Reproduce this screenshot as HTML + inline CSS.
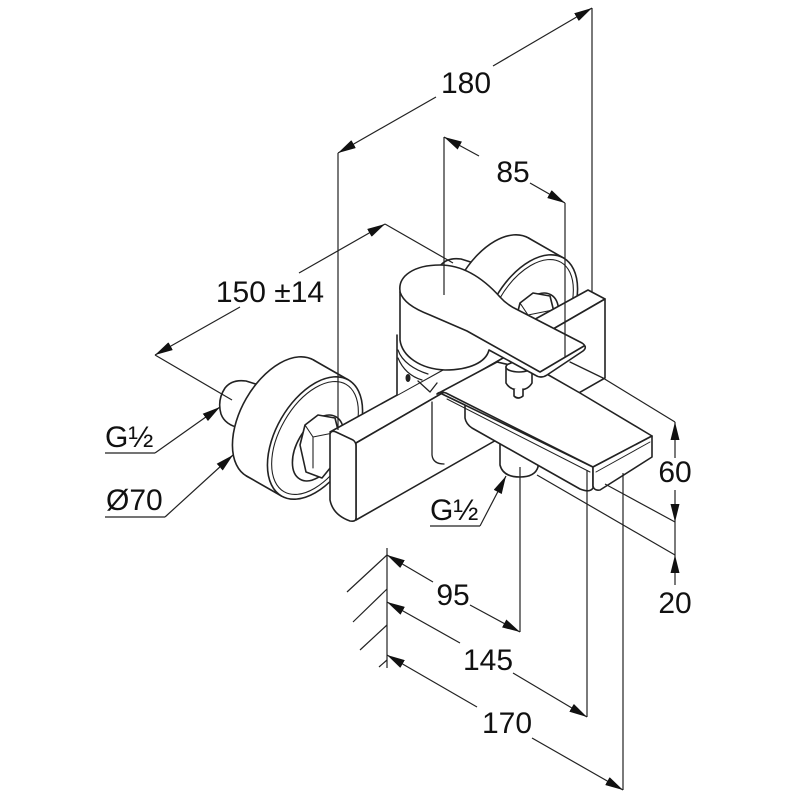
<!DOCTYPE html>
<html>
<head>
<meta charset="utf-8">
<style>
html,body{margin:0;padding:0;background:#fff;}
svg{display:block;}
text{font-family:"Liberation Sans",Arial,sans-serif;font-size:30px;fill:#111;}
</style>
</head>
<body>
<svg width="800" height="800" viewBox="0 0 800 800" xmlns="http://www.w3.org/2000/svg">
<defs>
  <marker id="a" viewBox="0 0 18 9" refX="18" refY="4.5" markerWidth="18" markerHeight="9" markerUnits="userSpaceOnUse" orient="auto">
    <path d="M0,0 L18,4.5 L0,9 Z" fill="#111"/>
  </marker>
  <g id="esc">
    <path d="M262,386 L246,381 Q232,379 225,388 Q217,400 221,414 Q225,425 240,428 L262,432 Z"/>
    <ellipse cx="280" cy="418" rx="67" ry="39" transform="rotate(-60 280 418)"/>
    <polygon points="313.5,360 348.5,380 281.5,496 246.5,476" stroke="none"/>
    <line x1="313.5" y1="360" x2="348.5" y2="380"/>
    <line x1="246.5" y1="476" x2="281.5" y2="496"/>
    <ellipse cx="315" cy="438" rx="67" ry="39" transform="rotate(-60 315 438)"/>
    <ellipse cx="315" cy="438" rx="62" ry="35" transform="rotate(-60 315 438)" stroke-width="1.1"/>
    <ellipse cx="318" cy="448" rx="36" ry="21" transform="rotate(-60 318 448)"/>
    <polygon points="300,445 305,425 318,415 335,418 340,438 335,462 322,478 306,472"/>
    <path d="M305,425 L313,437 L313,468 M313,437 L338,432" fill="none" stroke-width="1.1"/>
  </g>
</defs>

<!-- faucet -->
<g fill="#fff" stroke="#222" stroke-width="1.6" stroke-linejoin="round" stroke-linecap="round">
  <!-- right escutcheon (behind) -->
  <use href="#esc" transform="translate(215,-122)"/>
  <!-- left escutcheon -->
  <use href="#esc"/>

  <!-- bar: top face, front face, left end -->
  <polygon points="330,432 588,290 605,299 356,443"/>
  <polygon points="356,443 605,299 605,378 356,520"/>
  <path d="M330,434 Q331,430 336,432 L353,440 Q356,442 356,446 L356,518 Q356,522 350,521 Q333,515 330,500 Z"/>
  <path d="M432,402 L432,455 Q433,464 444,464" fill="none" stroke-width="1.3"/>
  <line x1="570" y1="362" x2="603" y2="378" stroke-width="1.3"/>

  <!-- outlet -->
  <path d="M500,440 L500,465 Q503,477 520,477 Q535,477 538,467 L538,455 Z"/>
  <!-- spout side -->
  <path d="M440,393 L593,467 L593,488 Q590,493 580,489 L472,428 Q466,424 465,418 L465,405 Z"/>
  <line x1="447" y1="399" x2="590" y2="472" stroke-width="1"/>
  <!-- spout top -->
  <path d="M437,394 Q440,391 446,393 L593,467 L652,436 L580,393 L545,373 L497,362 Z"/>
  <!-- spout end -->
  <path d="M593,467 L652,436 L652,457 L600,490 Q594,491 593,486 Z"/>
  <line x1="596" y1="472" x2="650" y2="442" stroke-width="1"/>

  <!-- cartridge -->
  <path d="M397,335 L397,395 L440,371 L472,358 L472,335 Z" stroke="none"/>
  <line x1="397" y1="335" x2="397" y2="395"/>
  <path d="M398,350 C402,362 415,370 428,374 M398,358 C403,370 412,377 422,380" fill="none" stroke-width="1.2"/>
  <path d="M418,381 L430,392 L437,383" fill="none" stroke-width="1.3"/>
  <ellipse cx="408" cy="378" rx="2.5" ry="4" fill="#222" stroke="none"/>

  <!-- diverter knob -->
  <path d="M506,367 L506,383 Q510,390 519,390 Q528,390 532,383 L532,367 Z"/>
  <ellipse cx="519" cy="367" rx="13" ry="5"/>
  <path d="M514,389 L514,396 Q518,400 523,396 L523,389"/>

  <!-- lever -->
  <path d="M400,291 C398,276 414,265 440,265 C463,265 483,278 500,297 Q507,305 518,310 L582,343 Q588,347 583,351 L547,375 Q541,379 535,375 L489,350 C486,362 470,370 445,370 C420,369 402,356 400,340 Z"/>
  <path d="M400,292 C403,301 412,308 430,315 L467,331 L540,372 L584,346" fill="none"/>
</g>

<!-- dimension / extension lines -->
<g stroke="#222" stroke-width="1.2" fill="none">
  <line x1="338" y1="153" x2="338" y2="430"/>
  <line x1="592" y1="8" x2="592" y2="292"/>
  <line x1="444" y1="137" x2="444" y2="295"/>
  <line x1="565" y1="203" x2="565" y2="357"/>
  <line x1="155" y1="355" x2="232" y2="400"/>
  <line x1="385" y1="224" x2="453" y2="263"/>
  <line x1="603" y1="378" x2="675" y2="422"/>
  <line x1="605" y1="484" x2="675" y2="522"/>
  <line x1="537" y1="475" x2="675" y2="555"/>
  <line x1="675" y1="522" x2="675" y2="555"/>
  <line x1="520" y1="467" x2="520" y2="632"/>
  <line x1="587" y1="470" x2="587" y2="717"/>
  <line x1="623" y1="473" x2="623" y2="790"/>
  <!-- wall -->
  <line x1="387" y1="548" x2="387" y2="668"/>
  <line x1="347" y1="592" x2="387" y2="555"/>
  <line x1="353" y1="622" x2="387" y2="589"/>
  <line x1="360" y1="650" x2="387" y2="625"/>
  <line x1="379" y1="667" x2="387" y2="660"/>
  <!-- label underlines -->
  <line x1="105" y1="453" x2="155" y2="453"/>
  <line x1="105" y1="517" x2="165" y2="517"/>
  <line x1="430" y1="526" x2="480" y2="526"/>
</g>

<g stroke="#222" stroke-width="1.2" fill="none" marker-end="url(#a)">
  <line x1="436" y1="97" x2="338" y2="153"/>
  <line x1="493" y1="66" x2="592" y2="8"/>
  <line x1="479" y1="156" x2="444" y2="137"/>
  <line x1="530" y1="183" x2="565" y2="203"/>
  <line x1="240" y1="307" x2="155" y2="355"/>
  <line x1="299" y1="273" x2="385" y2="224"/>
  <line x1="155" y1="453" x2="220" y2="407"/>
  <line x1="165" y1="517" x2="233" y2="455"/>
  <line x1="480" y1="526" x2="506" y2="476"/>
  <line x1="675" y1="458" x2="675" y2="422"/>
  <line x1="675" y1="490" x2="675" y2="522"/>
  <line x1="675" y1="585" x2="675" y2="555"/>
  <line x1="433" y1="582" x2="387" y2="555"/>
  <line x1="470" y1="605" x2="520" y2="632"/>
  <line x1="460" y1="643" x2="387" y2="602"/>
  <line x1="513" y1="673" x2="587" y2="717"/>
  <line x1="477" y1="707" x2="387" y2="655"/>
  <line x1="532" y1="738" x2="623" y2="790"/>
</g>

<!-- labels -->
<text x="466" y="93" text-anchor="middle">180</text>
<text x="513" y="182" text-anchor="middle">85</text>
<text x="270" y="302" text-anchor="middle">150 ±14</text>
<text x="105" y="447">G½</text>
<text x="106" y="510">Ø70</text>
<text x="430" y="520">G½</text>
<text x="675" y="482" text-anchor="middle">60</text>
<text x="675" y="613" text-anchor="middle">20</text>
<text x="453" y="605" text-anchor="middle">95</text>
<text x="488" y="670" text-anchor="middle">145</text>
<text x="507" y="733" text-anchor="middle">170</text>
</svg>
</body>
</html>
